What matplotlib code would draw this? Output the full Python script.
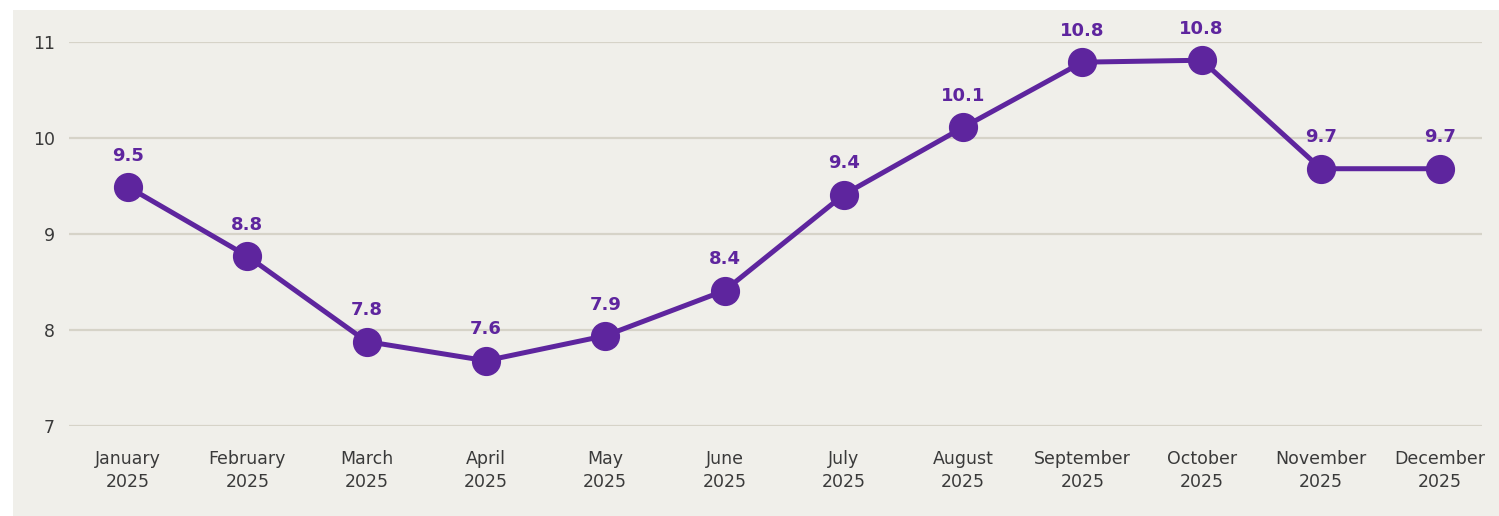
import matplotlib
matplotlib.use("Agg")
import matplotlib.pyplot as plt
from matplotlib.patches import Rectangle

months = ["January", "February", "March", "April", "May", "June", "July",
          "August", "September", "October", "November", "December"]
year = "2025"
values = [9.49, 8.77, 7.88, 7.68, 7.94, 8.41, 9.41, 10.11, 10.79, 10.81, 9.68, 9.68]
labels = ["9.5", "8.8", "7.8", "7.6", "7.9", "8.4", "9.4", "10.1", "10.8", "10.8", "9.7", "9.7"]
yticks = [7, 8, 9, 10, 11]

purple = "#5e259e"
bg = "#f0efea"
grid_col = "#d6d3c8"
text_col = "#3a3a3a"

plt.rcParams['font.family'] = ['DejaVu Sans']

fig = plt.figure(figsize=(14.99, 5.16), dpi=100)
fig.patch.set_facecolor("white")
# beige panel behind the plot
panel = Rectangle((13 / 1499, 0), 1 - 13 / 1499, 1 - 10 / 516,
                  transform=fig.transFigure, facecolor=bg,
                  edgecolor="none", zorder=-1)
fig.add_artist(panel)

ax = fig.add_axes([69 / 1499, 90 / 516, (1482 - 69) / 1499, (426 - 42) / 516])
ax.set_facecolor("none")
ax.set_zorder(1)

x = list(range(len(months)))
ax.plot(x, values, color=purple, lw=3.6, marker="o", markersize=20,
        clip_on=False, zorder=3)
for xi, v, lab in zip(x, values, labels):
    ax.annotate(lab, (xi, v), xytext=(0, 16), textcoords="offset points",
                ha="center", va="bottom", color=purple, fontsize=13,
                fontweight="heavy")

ax.set_xlim(-0.495, 11.35)
ax.set_ylim(7, 11)
ax.set_yticks(yticks)
ax.set_yticklabels([str(t) for t in yticks])
ax.set_xticks(x)
ax.set_xticklabels([m + "\n" + year for m in months], linespacing=1.35)
ax.tick_params(axis="both", length=0, colors=text_col, labelsize=12.5)
ax.tick_params(axis="x", pad=17)
ax.tick_params(axis="y", pad=10)
ax.grid(axis="y", color=grid_col, lw=1.6)
ax.set_axisbelow(True)
for s in ax.spines.values():
    s.set_visible(False)

fig.savefig("out.png", dpi=100)
